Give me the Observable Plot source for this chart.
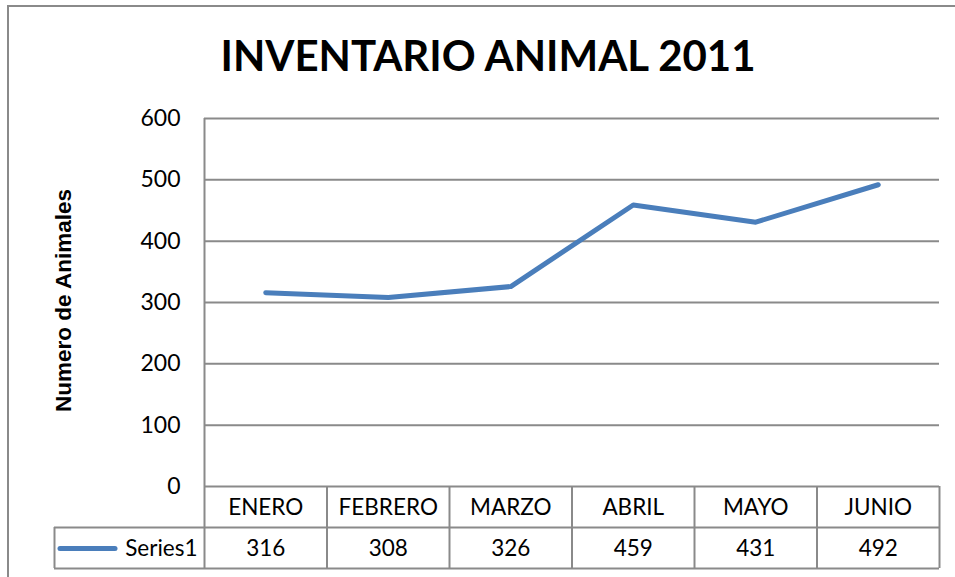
<!DOCTYPE html>
<html>
<head>
<meta charset="utf-8">
<script src="https://cdn.jsdelivr.net/npm/d3@7"></script>
<script src="https://cdn.jsdelivr.net/npm/@observablehq/plot@0.6"></script>
<style>
  html, body { margin: 0; padding: 0; background: #fff; }
  #wrap { position: relative; width: 955px; height: 577px; overflow: hidden; }
  #border { position: absolute; left: 7px; top: 5px; width: 2000px; height: 2000px;
            border-left: 2px solid #8a8a8a; border-top: 2px solid #8a8a8a; pointer-events: none; }
  svg { display: block; }
</style>
</head>
<body>
<div id="wrap"><div id="border"></div><div id="chart"></div></div>
<script>
const title = "INVENTARIO ANIMAL 2011";
const yLabel = "Numero de Animales";
const seriesName = "Series1";
const categories = ["ENERO", "FEBRERO", "MARZO", "ABRIL", "MAYO", "JUNIO"];
const values = [316, 308, 326, 459, 431, 492];
const yTicks = [0, 100, 200, 300, 400, 500, 600];

const data = categories.map((c, i) => ({cat: c, idx: i + 0.5, value: values[i]}));
const bounds = d3.range(1, categories.length + 1);

const grid = "#8a8a8a";
const gw = 2;
const font = "Lato, 'Noto Sans', sans-serif";
const frameH = 368;

const chart = Plot.plot({
  width: 955,
  height: 577,
  marginLeft: 204,
  marginRight: 16,
  marginTop: 118,
  marginBottom: 91,
  style: {fontFamily: font, background: "transparent", color: "#000"},
  x: {type: "linear", domain: [0, categories.length], axis: null},
  y: {domain: [0, 600], axis: null},
  marks: [
    Plot.ruleY(yTicks, {stroke: grid, strokeWidth: gw, strokeOpacity: 1}),
    Plot.ruleX([0], {stroke: grid, strokeWidth: gw, strokeOpacity: 1, insetBottom: -82}),
    Plot.ruleX(bounds, {stroke: grid, strokeWidth: gw, strokeOpacity: 1, insetTop: frameH, insetBottom: -82}),
    Plot.ruleY([0], {stroke: grid, strokeWidth: gw, strokeOpacity: 1, dy: 41, insetLeft: -150}),
    Plot.ruleY([0], {stroke: grid, strokeWidth: gw, strokeOpacity: 1, dy: 82, insetLeft: -150}),
    Plot.ruleX([0], {stroke: grid, strokeWidth: gw, strokeOpacity: 1, dx: -150, insetTop: frameH + 41, insetBottom: -82}),
    Plot.text(yTicks, {x: 0, y: d => d, text: d => String(d), textAnchor: "end", dx: -24, fontSize: 23, fill: "#000"}),
    Plot.text(data, {x: "idx", y: 0, text: "cat", dy: 21, fontSize: 22.5, fill: "#000"}),
    Plot.text(data, {x: "idx", y: 0, text: d => String(d.value), dy: 62, fontSize: 22.5, fill: "#000"}),
    Plot.ruleY([0], {x1: 0, x2: 0, dy: 62, insetLeft: -144, insetRight: 89, stroke: "#4a7ebb", strokeWidth: 5, strokeLinecap: "round"}),
    Plot.text([seriesName], {x: 0, y: 0, dy: 62, dx: -7, textAnchor: "end", fontSize: 22.5, fill: "#000"}),
    Plot.line(data, {x: "idx", y: "value", stroke: "#4a7ebb", strokeWidth: 5, strokeLinejoin: "round", strokeLinecap: "round"}),
    Plot.text([title], {frameAnchor: "top", lineAnchor: "middle", dx: -84, dy: -61, fontSize: 42, fontWeight: "bold", fill: "#000"}),
    Plot.text([yLabel], {frameAnchor: "left", textAnchor: "middle", lineAnchor: "middle", rotate: -90, dx: -141, dy: -2, fontSize: 22.5, fontWeight: "bold", fontFamily: "'Liberation Sans', Arial, sans-serif", fill: "#000"})
  ]
});
document.getElementById("chart").appendChild(chart);
</script>
</body>
</html>
